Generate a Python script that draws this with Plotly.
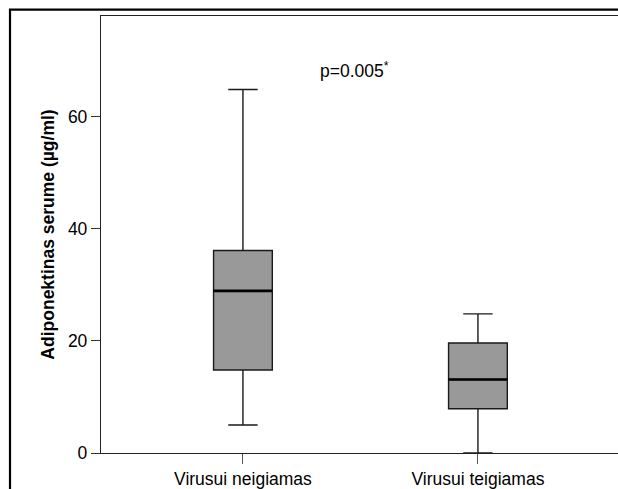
import plotly.graph_objects as go

categories = ["Virusui neigiamas", "Virusui teigiamas"]
lower_whisker = [5.0, 0.0]
q1 = [14.8, 7.9]
median = [28.9, 13.1]
q3 = [36.1, 19.6]
upper_whisker = [64.8, 24.8]
y_ticks = [0, 20, 40, 60]
annotation_text = "p=0.005<sup>*</sup>"

BOX_W = 0.25
positions = list(range(len(categories)))

fig = go.Figure()
for i, cat in enumerate(categories):
    fig.add_trace(go.Box(
        x=[positions[i]], q1=[q1[i]], median=[median[i]], q3=[q3[i]],
        lowerfence=[lower_whisker[i]], upperfence=[upper_whisker[i]],
        width=BOX_W, whiskerwidth=0.5,
        fillcolor="#999999", line=dict(color="#1a1a1a", width=1.4),
        boxpoints=False, showlegend=False, name=cat, hoverinfo="skip",
    ))
    fig.add_trace(go.Scatter(
        x=[positions[i] - BOX_W / 2, positions[i] + BOX_W / 2],
        y=[median[i], median[i]], mode="lines",
        line=dict(color="#000000", width=2.6), showlegend=False, hoverinfo="skip",
    ))

fig.add_annotation(x=0.475, y=68.3, xref="x", yref="y", text=annotation_text,
                   showarrow=False, font=dict(family="Arial, Liberation Sans", size=17.5, color="#000"))

# outer frame
fig.add_shape(type="rect", xref="paper", yref="paper", x0=-0.176, x1=1.2, y0=-0.3, y1=1.0148,
              line=dict(color="#000", width=2.2), fillcolor="rgba(0,0,0,0)", layer="above")

fig.update_layout(
    width=618, height=489,
    margin=dict(l=101, r=0, t=16, b=36),
    paper_bgcolor="white", plot_bgcolor="white",
    font=dict(family="Arial, Liberation Sans", size=17.5, color="#000"),
    xaxis=dict(range=[-0.604, -0.604 + 517 / 235], tickvals=positions, ticktext=categories,
               showgrid=False, zeroline=False, showline=True, linecolor="#222", linewidth=1.3,
               mirror=True, ticks="outside", ticklen=10, tickcolor="#555", tickwidth=1.3,
               tickfont=dict(size=17.5)),
    yaxis=dict(range=[0, 437 / 5.61], tickvals=y_ticks, showgrid=False, zeroline=False,
               showline=True, linecolor="#222", linewidth=1.3, ticks="outside", ticklen=9,
               tickcolor="#333", tickwidth=1.3, tickfont=dict(size=17.5),
               title=dict(text="<b>Adiponektinas serume (µg/ml)</b>", font=dict(size=17.5), standoff=8)),
)

fig.write_html("out.html")
